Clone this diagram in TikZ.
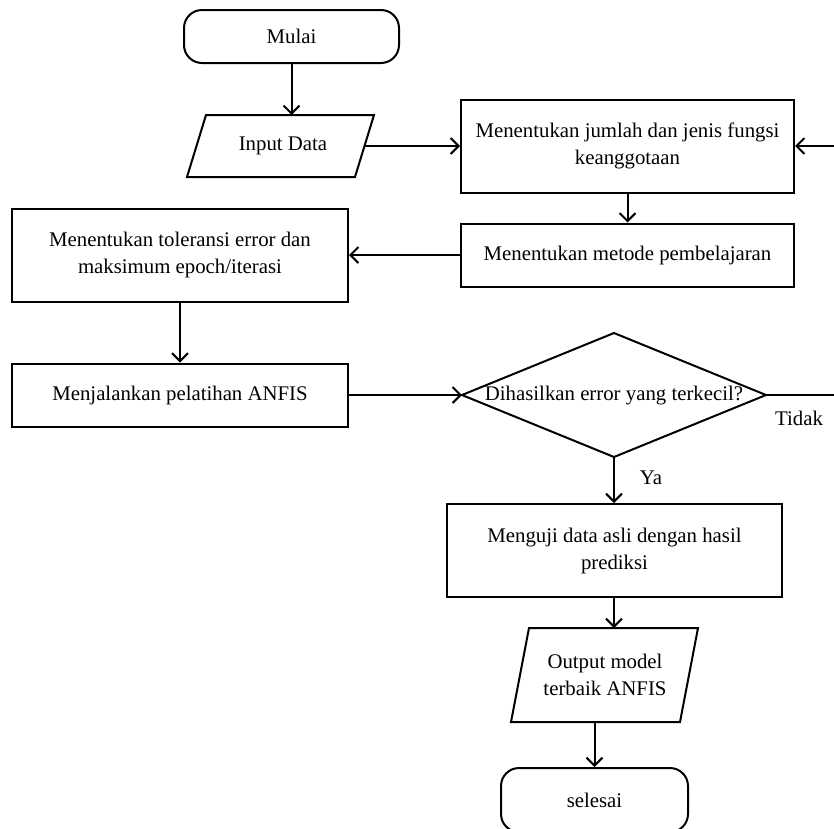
\documentclass[tikz,border=0pt]{standalone}
\usepackage{fontspec}
\setmainfont{Liberation Serif}
\usetikzlibrary{arrows.meta}
\begin{document}
\begin{tikzpicture}[x=1pt,y=-1pt,
  every node/.style={font=\fontsize{20.8}{27}\selectfont, inner sep=0pt, align=center},
  box/.style={draw, line width=2pt, rectangle},
  term/.style={draw, line width=2pt, rectangle, rounded corners=18pt},
  shapeline/.style={draw, line width=2pt, line join=miter},
  arr/.style={line width=2pt, -{Straight Barb[length=8pt,width=16pt,line width=2pt]}},
  con/.style={line width=2pt}]
\fill[white] (0,0) rectangle (834,828);
\useasboundingbox (0,0) rectangle (834,828);

% terminals and boxes
\node[term, minimum width=215pt, minimum height=53pt] (mulai) at (291.5,36.5) {Mulai};
\node[box, minimum width=333pt, minimum height=93pt] (b1) at (627.5,146) {Menentukan jumlah dan jenis fungsi\\keanggotaan};
\node[box, minimum width=333pt, minimum height=63pt] (b2) at (627.5,255) {Menentukan metode pembelajaran};
\node[box, minimum width=336pt, minimum height=93pt] (b3) at (180,255) {Menentukan toleransi error dan\\maksimum epoch/iterasi};
\node[box, minimum width=336pt, minimum height=63pt] (b4) at (180,395) {Menjalankan pelatihan ANFIS};
\node[box, minimum width=335pt, minimum height=93pt] (b5) at (614.5,550.5) {Menguji data asli dengan hasil\\prediksi};
\node[term, minimum width=187pt, minimum height=64pt] (sel) at (594.5,800) {selesai};

% input parallelogram
\draw[shapeline] (206,115) -- (374,115) -- (355,177) -- (187,177) -- cycle;
\node (inp) at (283,146) {Input Data};
\coordinate (inT) at (291.5,115);
\coordinate (inR) at (364.5,146);

% decision diamond
\draw[shapeline] (614,333) coordinate (dT) -- (766,395) coordinate (dR) -- (614,457) coordinate (dB) -- (462,395) coordinate (dL) -- cycle;
\node (dia) at (614,396) {Dihasilkan error yang terkecil?};

% output parallelogram
\draw[shapeline] (529,628) -- (698,628) -- (680,722) -- (511,722) -- cycle;
\node (out) at (605,675) {Output model\\terbaik ANFIS};
\coordinate (oT) at (614,628);
\coordinate (oB) at (594.5,722);

% edge points
\coordinate (eR1) at (840,146);
\coordinate (eR2) at (840,395);

% labels
\node (tidak) at (799,418) {Tidak};
\node (ya) at (651,478) {Ya};

% connectors
\draw[arr] (mulai.south) -- (inT);
\draw[arr] (inR) -- (b1.west);
\draw[arr] (eR1) -- (b1.east);
\draw[arr] (b1.south) -- (b2.north);
\draw[arr] (b2.west) -- (b3.east);
\draw[arr] (b3.south) -- (b4.north);
\draw[arr] (b4.east) -- (dL);
\draw[con] (dR) -- (eR2);
\draw[arr] (dB) -- (dB |- b5.north);
\draw[arr] (b5.south -| oT) -- (oT);
\draw[arr] (oB) -- (sel.north);
\end{tikzpicture}
\end{document}
